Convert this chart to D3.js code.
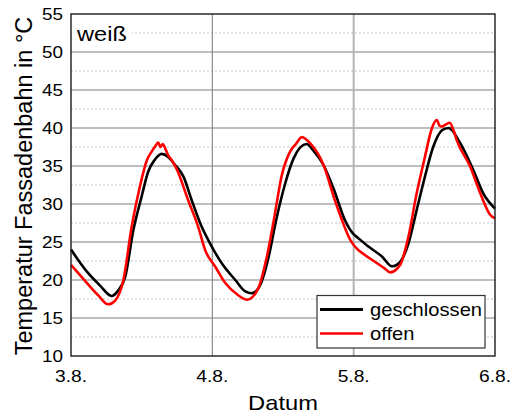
<!DOCTYPE html>
<html><head><meta charset="utf-8">
<script src="https://cdn.jsdelivr.net/npm/d3@7"></script>
<style>body{margin:0;background:#fff}svg{display:block}text{font-family:"Liberation Sans",Arial,sans-serif;fill:#000}</style>
</head><body><svg id="c" width="524" height="419"></svg>
<script>
// hours since 3.8. 00:00
const xTicks = [0, 24, 48, 72];
const xTickLabels = ["3.8.", "4.8.", "5.8.", "6.8."];
const yTicks = [10, 15, 20, 25, 30, 35, 40, 45, 50, 55];
const yMinor = [12.5, 17.5, 22.5, 27.5, 32.5, 37.5, 42.5, 47.5, 52.5];
const seriesNames = ["geschlossen", "offen"];
const seriesColors = ["#000000", "#ff0000"];
const geschlossenH = [0,2.7,4.9,6.9,8.0,9.2,10.6,12.0,13.1,14.2,15.4,16.5,17.5,19.1,20.5,22.2,23.9,25.6,27.9,29.6,30.7,32.1,33.5,34.9,36.3,37.8,40.0,41.2,42.9,44.6,46.5,47.9,48.8,50.5,52.8,54.5,55.9,57.3,58.7,60.1,61.5,63.0,64.1,66.1,68.3,70.0,72.0];
const geschlossenT = [24.0,21.1,19.3,17.9,18.6,20.4,26.6,31.0,34.25,35.8,36.6,36.2,35.3,33.6,30.5,27.0,24.4,22.2,20.0,18.5,18.25,19.3,22.85,28.1,32.5,36.0,37.9,37.0,35.1,32.0,27.9,26.1,25.5,24.4,23.1,21.8,22.4,24.8,29.2,33.6,37.5,39.7,40.0,38.0,34.5,31.4,29.4];
const offenH = [0,2.5,4.6,6.3,7.5,8.9,10.3,11.7,12.9,13.7,14.3,14.8,15.2,15.6,16.0,16.5,17.0,18.0,19.9,21.6,22.8,24.5,26.2,28.4,29.9,31.8,33.2,34.4,35.8,37.2,38.2,39.2,40.6,42.9,44.8,46.0,47.4,48.2,49.9,51.6,53.3,54.2,55.9,57.3,58.7,60.1,61.3,62.1,62.6,63.0,63.5,64.3,65.0,65.5,67.8,69.5,71.2,72.0];
const offenT = [22.0,19.8,18.0,16.8,17.3,20.0,27.0,32.3,35.8,36.9,37.6,38.1,37.5,37.9,37.3,36.4,35.9,34.5,30.5,27.0,23.9,21.75,19.6,18.0,17.4,18.9,22.85,27.7,33.8,36.9,37.9,38.8,38.0,35.1,30.5,27.9,25.3,24.4,23.3,22.4,21.5,21.0,22.0,25.7,31.4,36.2,40.0,41.05,40.3,40.2,40.4,40.7,39.6,38.4,34.9,31.4,28.55,28.1];

const svg = d3.select("#c");
const L = 71, R = 495, T = 14, B = 356;
const x = d3.scaleLinear().domain([0, 72]).range([L, R]);
const y = d3.scaleLinear().domain([10, 55]).range([B, T]);
const SX = 1.18;

// minor dotted grid
svg.append("g").selectAll("line").data(yMinor).join("line")
  .attr("x1", L).attr("x2", R).attr("y1", d => y(d)).attr("y2", d => y(d))
  .attr("stroke", "#c4c4c4").attr("stroke-width", 1).attr("stroke-dasharray", "2,2");
// major grid
svg.append("g").selectAll("line").data(yTicks.filter(d => d > 10 && d < 55)).join("line")
  .attr("x1", L).attr("x2", R).attr("y1", d => y(d)).attr("y2", d => y(d))
  .attr("stroke", "#7f7f7f").attr("stroke-width", 1.2);
// vertical grid
svg.append("g").selectAll("line").data(xTicks.slice(1, 3)).join("line")
  .attr("x1", d => x(d)).attr("x2", d => x(d)).attr("y1", T).attr("y2", B)
  .attr("stroke", (d, i) => i === 0 ? "#8a8a8a" : "#b4b4b4")
  .attr("stroke-width", (d, i) => i === 0 ? 1.2 : 2);

// label "weiß" with white background
svg.append("rect").attr("x", L + 1).attr("y", T + 8).attr("width", 60).attr("height", 24).attr("fill", "#fff");
svg.append("text").attr("transform", `translate(${L + 6},${T + 26.5}) scale(${SX},1)`)
  .attr("font-size", 20).text("weiß");

// lines
const line = d3.line().x(d => x(d[0])).y(d => y(d[1])).curve(d3.curveMonotoneX);
const data = [d3.zip(geschlossenH, geschlossenT), d3.zip(offenH, offenT)];
svg.append("g").selectAll("path").data(data).join("path")
  .attr("d", line).attr("fill", "none")
  .attr("stroke", (d, i) => seriesColors[i]).attr("stroke-width", 2.6)
  .attr("stroke-linejoin", "round");

// frame
svg.append("rect").attr("x", L).attr("y", T).attr("width", R - L).attr("height", B - T)
  .attr("fill", "none").attr("stroke", "#1a1a1a").attr("stroke-width", 1.4);

// y tick labels
svg.append("g").selectAll("text").data(yTicks).join("text")
  .attr("transform", d => `translate(63,${y(d)}) scale(${SX},1)`)
  .attr("text-anchor", "end").attr("dy", "0.36em").attr("font-size", 16).text(d => d);
// x tick labels
svg.append("g").selectAll("text").data(xTicks).join("text")
  .attr("transform", d => `translate(${x(d)},381.5) scale(${SX},1)`)
  .attr("text-anchor", "middle").attr("font-size", 16.3).text((d, i) => xTickLabels[i]);

// axis titles
svg.append("text").attr("transform", `translate(${(L + R) / 2},410) scale(1.13,1)`)
  .attr("text-anchor", "middle").attr("font-size", 21).text("Datum");
svg.append("text").attr("transform", `translate(32,186) rotate(-90)`)
  .attr("text-anchor", "middle").attr("font-size", 23.5).text("Temperatur Fassadenbahn in °C");

// legend
const lg = svg.append("g");
lg.append("rect").attr("x", 317).attr("y", 295.5).attr("width", 168).attr("height", 52.5)
  .attr("fill", "#fff").attr("stroke", "#333").attr("stroke-width", 1.2);
seriesNames.forEach((n, i) => {
  const yy = 309.5 + i * 24;
  lg.append("line").attr("x1", 320).attr("x2", 363).attr("y1", yy).attr("y2", yy)
    .attr("stroke", seriesColors[i]).attr("stroke-width", i === 0 ? 3 : 2.4);
  lg.append("text").attr("transform", `translate(370,${yy + 6}) scale(1.12,1)`)
    .attr("font-size", 18).text(n);
});
</script></body></html>
